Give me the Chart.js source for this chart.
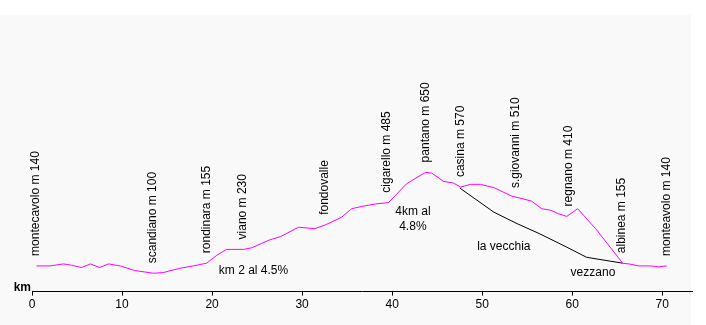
<!DOCTYPE html>
<html>
<head>
<meta charset="utf-8">
<script src="https://cdn.jsdelivr.net/npm/chart.js@4/dist/chart.umd.min.js"></script>
<style>
  html, body { margin: 0; padding: 0; background: #fff; }
  #wrap { width: 706px; height: 325px; position: relative; }
</style>
</head>
<body>
<div id="wrap"><canvas id="chart" width="706" height="325"></canvas></div>
<script>
// altimetria del giro: km progressivi e quota in metri
const profiloKm = [0.5, 2, 3.5, 4.4, 5.5, 6.5, 7.5, 8.5, 9.8, 11.4, 13.5, 14.6, 16.4, 17.9, 19.4,
  20.5, 21.6, 23.5, 24.4, 26.4, 27.6, 29.6, 31.4, 32.6, 34.4, 35.5, 36.8, 38.3, 39.6, 41.6,
  43.7, 44.4, 45.7, 46.8, 47.6, 48.7, 49.8, 51.3, 53.3, 54.2, 55.5, 56.6, 57.6, 58.5, 59.4,
  60.6, 62.6, 65.6, 66.4, 67.4, 68.7, 69.6, 70.5];
const profiloQuota = [140, 140, 151, 144, 131, 151, 131, 151, 140, 115, 100, 104, 127, 140, 155,
  197, 230, 230, 239, 282, 300, 351, 343, 364, 406, 452, 466, 479, 485, 588,
  650, 646, 601, 592, 570, 585, 585, 567, 520, 510, 493, 452, 444, 424, 410,
  452, 343, 155, 150, 140, 140, 135, 140];

// variante per la vecchia strada di vezzano
const vecchiaKm = [47.5, 51.3, 53.9, 56.4, 59.4, 61.6, 65.6];
const vecchiaQuota = [565, 433, 370, 315, 242, 187, 155];

// localita' (testo verticale sopra il profilo)
const localitaNome = ['montecavolo m 140', 'scandiano m 100', 'rondinara m 155', 'viano m 230',
  'fondovalle', 'cigarello m 485', 'pantano m 650', 'casina m 570', 's.giovanni m 510',
  'regnano m 410', 'albinea m 155', 'monteavolo m 140'];
const localitaKm = [0.45, 13.45, 19.45, 23.4, 32.55, 39.4, 43.7, 47.6, 53.7, 59.6, 65.5, 70.5];
const localitaQuota = [140, 100, 155, 230, 364, 485, 650, 570, 510, 410, 155, 140];

// note orizzontali
const noteTesto = ['km 2 al 4.5%', '4km al', '4.8%', 'la vecchia', 'vezzano'];
const noteKm = [24.6, 42.3, 42.3, 52.4, 62.3];
const noteQuota = [114, 437, 355, 246, 104];

const xTicks = [0, 10, 20, 30, 40, 50, 60, 70];

const FONT = '"Liberation Sans", Arial, sans-serif';

const sfondo = {
  id: 'sfondo',
  beforeDraw(chart) {
    const c = chart.ctx;
    c.save();
    c.fillStyle = '#ffffff';
    c.fillRect(0, 0, chart.width, chart.height);
    c.fillStyle = '#f9f9f9';
    c.fillRect(0, 15, 691, chart.height - 15);
    c.restore();
  }
};

const etichette = {
  id: 'etichette',
  afterDatasetsDraw(chart) {
    const c = chart.ctx;
    const xs = chart.scales.x, ys = chart.scales.y;
    c.save();
    c.fillStyle = '#000';
    c.font = '12px ' + FONT;
    // nomi verticali
    localitaNome.forEach((nome, i) => {
      const px = xs.getPixelForValue(localitaKm[i]);
      const py = ys.getPixelForValue(localitaQuota[i]) - 10;
      c.save();
      c.translate(px, py);
      c.rotate(-Math.PI / 2);
      c.textAlign = 'left';
      c.textBaseline = 'middle';
      c.fillText(nome, 0, 0);
      c.restore();
    });
    // note
    c.textAlign = 'center';
    c.textBaseline = 'middle';
    noteTesto.forEach((t, i) => {
      c.fillText(t, xs.getPixelForValue(noteKm[i]), ys.getPixelForValue(noteQuota[i]));
    });
    // "km" accanto all'asse
    c.font = 'bold 12px ' + FONT;
    c.textAlign = 'right';
    c.textBaseline = 'alphabetic';
    c.fillText('km', xs.left - 1, ys.bottom - 1);
    c.restore();
  }
};

const toPoints = (xs, ys) => xs.map((x, i) => ({ x: x, y: ys[i] }));

new Chart(document.getElementById('chart'), {
  type: 'line',
  data: {
    datasets: [
      {
        label: 'percorso',
        data: toPoints(profiloKm, profiloQuota),
        borderColor: '#ff00ff',
        borderWidth: 1,
        pointRadius: 0,
        tension: 0
      },
      {
        label: 'la vecchia',
        data: toPoints(vecchiaKm, vecchiaQuota),
        borderColor: '#000000',
        borderWidth: 1,
        pointRadius: 0,
        tension: 0
      }
    ]
  },
  options: {
    responsive: false,
    animation: false,
    layout: { padding: { left: 32, right: 14, top: 0, bottom: 11 } },
    plugins: { legend: { display: false }, tooltip: { enabled: false } },
    scales: {
      x: {
        type: 'linear',
        min: 0,
        max: 73.3,
        afterBuildTicks: scale => { scale.ticks = xTicks.map(v => ({ value: v })); },
        ticks: {
          color: '#000',
          font: { family: FONT, size: 12 },
          padding: 2,
          maxRotation: 0,
          autoSkip: false
        },
        grid: { display: true, drawOnChartArea: false, drawTicks: true, tickLength: 4, color: '#000' },
        border: { display: true, color: '#000', width: 1 }
      },
      y: {
        display: false,
        min: 0,
        max: 1590
      }
    }
  },
  plugins: [sfondo, etichette]
});
</script>
</body>
</html>
